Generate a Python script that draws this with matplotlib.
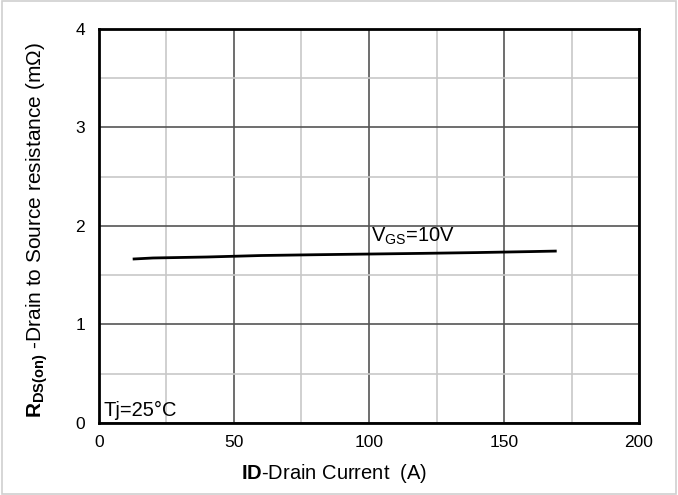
import matplotlib
matplotlib.use("Agg")
import matplotlib.pyplot as plt
from matplotlib.patches import Rectangle

plt.rcParams["font.family"] = ["Liberation Sans", "DejaVu Sans"]
plt.rcParams["mathtext.fontset"] = "custom"
plt.rcParams["mathtext.rm"] = "Liberation Sans"
plt.rcParams["mathtext.bf"] = "Liberation Sans:bold"
plt.rcParams["mathtext.it"] = "Liberation Sans:italic"

# drain current (A) vs on-resistance (mOhm), VGS = 10V
drain_current = [13, 20, 40, 60, 80, 100, 120, 140, 160, 169]
rds_on = [1.665, 1.675, 1.685, 1.70, 1.708, 1.715, 1.722, 1.73, 1.74, 1.745]

x_ticks = [0, 50, 100, 150, 200]
y_ticks = [0, 1, 2, 3, 4]

fig = plt.figure(figsize=(6.78, 4.95), dpi=100)
ax = fig.add_axes([0.146, 0.1455, 0.7965, 0.796])

# light frame round the whole picture
fig.patches.append(Rectangle((0.003, 0.003), 0.994, 0.994, transform=fig.transFigure,
                             fill=False, edgecolor="#d0d0d0", linewidth=1.2))

ax.plot(drain_current, rds_on, color="black", linewidth=2)

ax.set_xlim(0, 200)
ax.set_ylim(0, 4)
ax.set_xticks(x_ticks)
ax.set_yticks(y_ticks)
ax.set_xticks([25, 75, 125, 175], minor=True)
ax.set_yticks([0.5, 1.5, 2.5, 3.5], minor=True)
ax.grid(which="major", color="#555555", linewidth=1.2)
ax.grid(which="minor", color="#c8c8c8", linewidth=1.2)
ax.set_axisbelow(True)
ax.tick_params(which="both", length=0, labelsize=12.5)
ax.tick_params(axis="x", pad=9)
ax.tick_params(axis="y", pad=10)
for s in ax.spines.values():
    s.set_linewidth(2)
    s.set_color("black")

ax.text(100.8, 1.79, r"V$_{\mathrm{GS}}$=10V", fontsize=14.5, va="bottom", ha="left")
ax.text(1.5, 0.03, "Tj=25°C", fontsize=14.5, va="bottom", ha="left")

ax.set_xlabel(r"$\mathbf{ID}$-Drain Current  (A)", fontsize=14.5)
ax.xaxis.set_label_coords(0.435, -0.1)
ax.set_ylabel(r"$\mathbf{R}$$_{\mathbf{DS(on)}}$ -Drain to Source resistance (m$\Omega$)",
              fontsize=15)
ax.yaxis.set_label_coords(-0.09, 0.49)

fig.savefig("out.png", dpi=100)
